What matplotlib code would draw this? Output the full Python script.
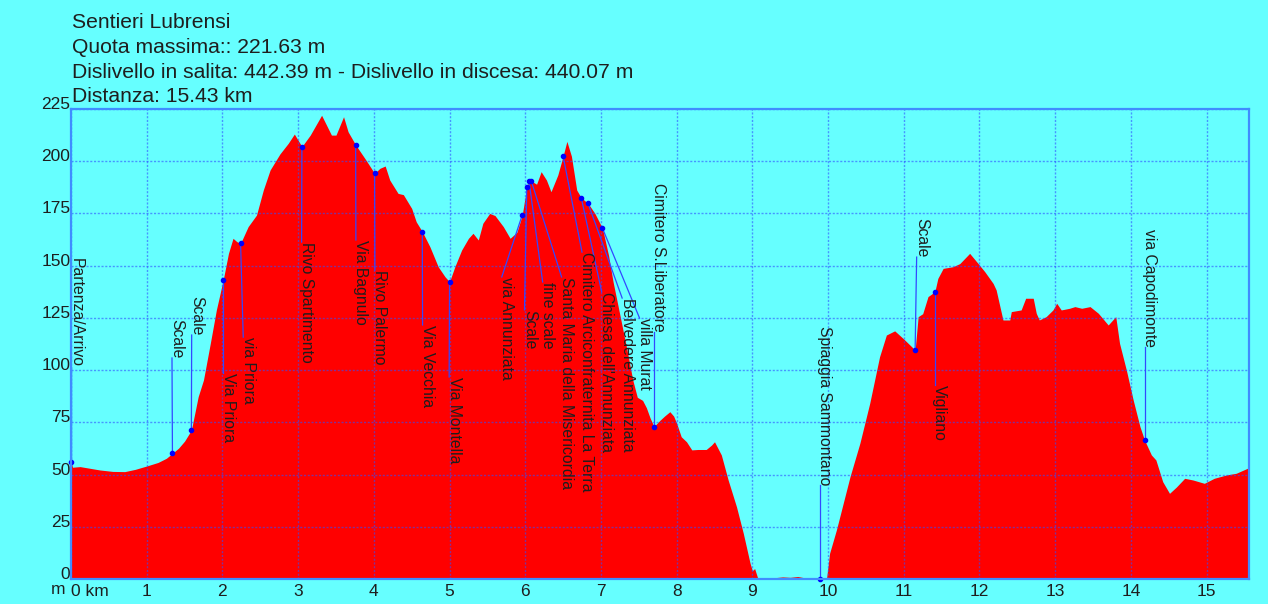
import matplotlib
matplotlib.use('Agg')
import matplotlib.pyplot as plt

plt.rcParams['font.family'] = ['Liberation Sans', 'DejaVu Sans']

# ---------------- data ----------------
title_lines = [
    "Sentieri Lubrensi",
    "Quota massima:: 221.63 m",
    "Dislivello in salita: 442.39 m - Dislivello in discesa: 440.07 m",
    "Distanza: 15.43 km",
]

km = [0.00, 0.02, 0.12, 0.25, 0.38, 0.55, 0.71, 0.85, 1.00, 1.15, 1.26, 1.34, 1.42, 1.50,
      1.59, 1.68, 1.75, 1.84, 1.92, 2.01, 2.08, 2.14, 2.19, 2.24, 2.34, 2.45, 2.54, 2.63,
      2.76, 2.87, 2.95, 3.05, 3.16, 3.31, 3.44, 3.50, 3.60, 3.66, 3.76, 3.88, 4.01, 4.08,
      4.15, 4.21, 4.32, 4.39, 4.50, 4.56, 4.64, 4.74, 4.85, 4.94, 5.00, 5.07, 5.16, 5.25,
      5.31, 5.38, 5.44, 5.53, 5.60, 5.71, 5.80, 5.89, 5.96, 6.02, 6.05, 6.08, 6.15, 6.21,
      6.28, 6.34, 6.43, 6.50, 6.55, 6.61, 6.68, 6.74, 6.83, 6.92, 7.02, 7.10, 7.16, 7.25,
      7.34, 7.42, 7.48, 7.55, 7.60, 7.65, 7.70, 7.78, 7.84, 7.91, 7.96, 8.00, 8.06, 8.13,
      8.20, 8.28, 8.39, 8.46, 8.50, 8.59, 8.68, 8.79, 8.88, 8.97, 9.00, 9.03, 9.07, 9.12,
      9.40, 9.50, 9.60, 9.70, 9.89, 9.98, 10.02, 10.11, 10.29, 10.42, 10.55, 10.68, 10.77,
      10.88, 10.99, 11.15, 11.19, 11.25, 11.32, 11.41, 11.45, 11.52, 11.65, 11.74, 11.87,
      11.98, 12.07, 12.18, 12.22, 12.31, 12.40, 12.42, 12.55, 12.61, 12.71, 12.75, 12.79,
      12.88, 12.97, 13.02, 13.08, 13.19, 13.26, 13.35, 13.46, 13.57, 13.70, 13.80, 13.85,
      13.94, 14.03, 14.12, 14.18, 14.27, 14.33, 14.42, 14.51, 14.60, 14.71, 14.82, 14.97,
      15.10, 15.26, 15.39, 15.54, 15.56]

elev = [56.2, 53.5, 53.8, 53.0, 52.2, 51.5, 51.4, 52.5, 54.1, 55.8, 57.8, 60.2, 62.6, 66.0,
        71.3, 87.3, 95.3, 112.8, 128.8, 143.1, 155.9, 163.1, 161.5, 160.7, 168.7, 174.2, 186.2, 195.8,
        203.5, 208.6, 213.0, 207.0, 212.5, 222.0, 212.5, 212.5, 221.3, 214.1, 207.8, 201.4, 194.2, 196.6,
        197.7, 191.0, 184.6, 184.0, 177.4, 171.0, 166.3, 159.1, 149.5, 144.7, 142.3, 149.5, 157.5, 163.1,
        165.5, 162.3, 170.3, 175.0, 174.0, 168.7, 163.1, 166.0, 174.2, 187.5, 190.5, 190.5, 189.0, 195.0,
        191.0, 185.4, 193.4, 202.5, 209.5, 202.4, 186.2, 182.5, 179.8, 175.0, 167.9, 155.0, 142.3, 126.4,
        110.4, 95.3, 87.0, 85.5, 82.0, 77.0, 73.0, 76.0, 78.0, 80.1, 78.0, 74.5, 68.1, 65.7,
        61.8, 62.0, 62.0, 64.1, 65.7, 59.4, 47.4, 34.6, 21.9, 7.5, 4.0, 5.0, 0.5, 0.0,
        1.0, 0.8, 1.2, 0.5, 0.0, 0.2, 12.3, 23.5, 49.0, 65.0, 84.1, 106.4, 116.8,
        118.8, 115.2, 109.6, 125.6, 127.0, 135.2, 137.5, 143.9, 148.7, 149.5, 151.0, 155.9,
        151.1, 147.1, 141.5, 138.4, 124.0, 124.0, 128.0, 128.8, 134.4, 134.4, 127.2, 124.0,
        125.6, 128.8, 132.0, 128.8, 129.6, 130.4, 129.6, 130.4, 127.2, 121.6, 125.6, 112.8,
        100.0, 85.7, 72.9, 66.5, 59.4, 57.0, 46.6, 41.0, 44.0, 48.2, 47.4, 45.8,
        48.2, 49.8, 50.6, 53.0, 53.2]

wp_names = ["Partenza/Arrivo", "Scale", "Scale", "Via Priora", "via Priora",
            "Rivo Spartimento", "Via Bagnulo", "Rivo Palermo", "Via Vecchia", "Via Montella",
            "via Annunziata", "Scale", "fine scale", "Santa Maria della Misericordia",
            "Cimitero Arciconfraternita La Terra", "Chiesa dell'Annunziata",
            "Belvedere Annunziata", "villa Murat", "Cimitero S.Liberatore",
            "Spiaggia Sammontano", "Scale", "Vigliano", "via Capodimonte"]
wp_km = [0.00, 1.34, 1.59, 2.01, 2.24, 3.05, 3.76, 4.01, 4.64, 5.00, 5.96, 6.02, 6.05, 6.08,
         6.50, 6.74, 6.83, 7.02, 7.70, 9.89, 11.15, 11.41, 14.18]
wp_elev = [56.2, 60.2, 71.3, 143.1, 160.7, 207.0, 207.8, 194.2, 166.3, 142.3, 174.2, 187.5,
           190.5, 190.5, 202.5, 182.5, 179.8, 167.9, 73.0, 0.0, 109.6, 137.5, 66.5]

y_ticks = [0, 25, 50, 75, 100, 125, 150, 175, 200, 225]
x_ticks = list(range(16))
x_tick_labels = ["0 km"] + [str(i) for i in range(1, 16)]

# ---------------- layout (label anchors for leader lines) ----------------
label_layout = [  # (leader end x in km, leader end y in m, side)
    (0.00, 101.5, 'above'), (1.334, 105.8, 'above'), (1.594, 116.8, 'above'),
    (2.01, 98.6, 'below'), (2.275, 115.8, 'below'), (3.046, 161.3, 'below'),
    (3.763, 162.3, 'below'), (4.014, 147.9, 'below'), (4.644, 121.6, 'below'),
    (4.995, 96.7, 'below'), (5.69, 144.6, 'below'), (5.99, 128.8, 'below'),
    (6.23, 142.2, 'below'), (6.48, 144.6, 'below'), (6.75, 156.5, 'below'),
    (7.01, 137.4, 'below'), (7.28, 134.5, 'below'), (7.51, 124.9, 'below'),
    (7.70, 118.2, 'above'), (9.89, 45.0, 'above'), (11.17, 154.1, 'above'),
    (11.41, 92.9, 'below'), (14.18, 111.1, 'above'),
]

BG = '#66ffff'
RED = '#ff0000'
GRID = '#3050ff'
TXT = '#1e1e1e'

W, H = 1268, 604
fig = plt.figure(figsize=(W / 100, H / 100), dpi=100, facecolor=BG)
ax = fig.add_axes([71 / W, 25 / H, 1178 / W, 470 / H])
ax.set_facecolor(BG)

ax.fill_between(km, elev, 0, color=RED, linewidth=0, zorder=1)

ax.set_xlim(0, 15.56)
ax.set_ylim(0, 225)
ax.set_xticks(x_ticks)
ax.set_xticklabels(x_tick_labels)
ax.set_yticks(y_ticks)
ax.set_yticklabels([str(v) for v in y_ticks])
ax.tick_params(length=0, labelsize=12.5, labelcolor=TXT)
ax.tick_params(axis='x', pad=3.5)
ax.tick_params(axis='y', pad=0.5)
for lbl in ax.get_yticklabels():
    lbl.set_va('baseline')
xl = ax.get_xticklabels()
xl[0].set_ha('left')

ax.grid(True, color=GRID, alpha=0.6, linewidth=1.0, linestyle=(0, (1.5, 1.2)), zorder=2)
ax.set_axisbelow(False)
for s in ax.spines.values():
    s.set_color('#3f8cff')
    s.set_linewidth(1.6)
    s.set_zorder(6)

# waypoints
for name, wx, wy, (lx, ly, side) in zip(wp_names, wp_km, wp_elev, label_layout):
    ax.plot([wx, lx], [wy, ly], color='#3348ff', linewidth=0.9, zorder=3)
    ax.annotate(name, xy=(lx, ly), xytext=(3.5, 0), textcoords='offset points',
                rotation=270, ha='center', va='top' if side == 'below' else 'bottom',
                fontsize=11.3, color=TXT, zorder=5, annotation_clip=False)
ax.plot(wp_km, wp_elev, 'o', color='#0000ff', markersize=3.0, zorder=4, clip_on=False)

fig.text(58 / W, 1 - 590 / H, "m", ha='center', va='center', fontsize=12.5, color=TXT)

baselines = [28, 53, 78, 102]
for line, b in zip(title_lines, baselines):
    fig.text(72 / W, 1 - b / H, line, ha='left', va='baseline', fontsize=15.2, color=TXT)

fig.savefig('out.png', dpi=100, facecolor=BG)
